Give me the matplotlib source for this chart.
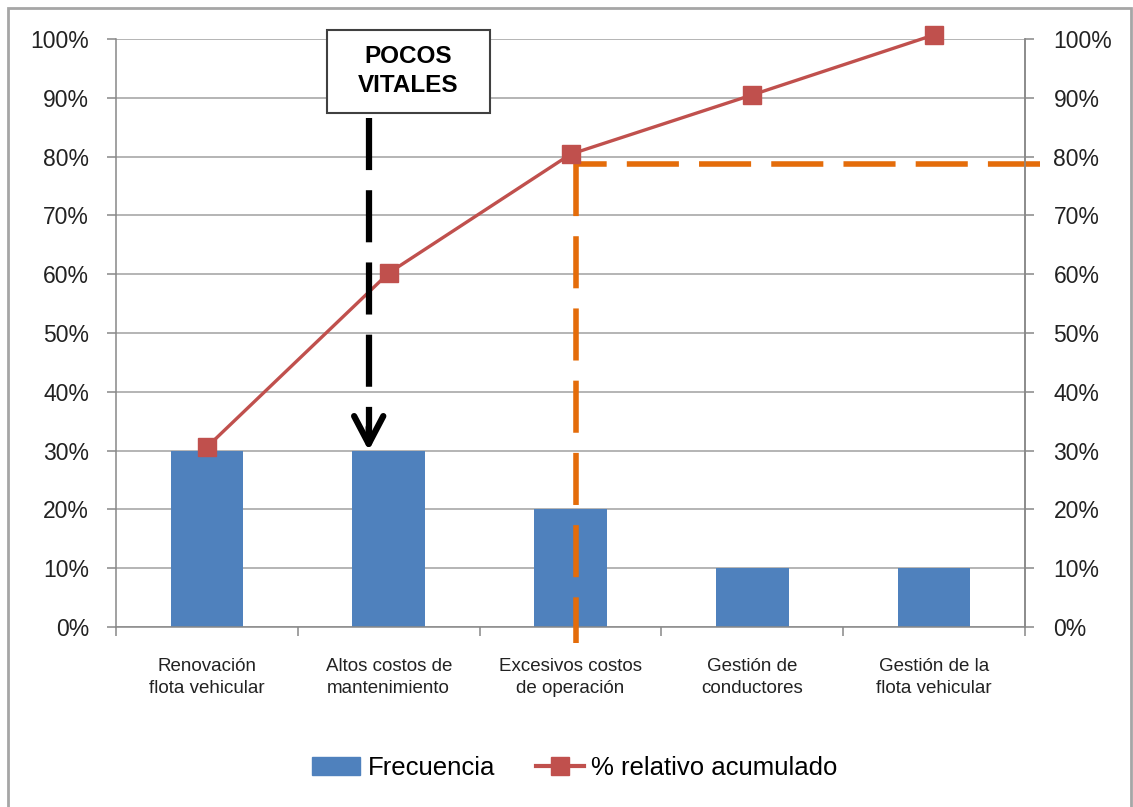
import matplotlib.pyplot as plt
from matplotlib.patches import Rectangle, Patch
from matplotlib.lines import Line2D
from matplotlib.ticker import FixedLocator, PercentFormatter

plt.rcParams['font.family'] = ['Liberation Sans', 'DejaVu Sans']
plt.rcParams['lines.scale_dashes'] = False

# Pareto data
categorias = [
    "Renovación\nflota vehicular",
    "Altos costos de\nmantenimiento",
    "Excesivos costos\nde operación",
    "Gestión de\nconductores",
    "Gestión de la\nflota vehicular",
]
frecuencia = [30, 30, 20, 10, 10]
acumulado = [30.6, 60.2, 80.4, 90.5, 100.7]
corte_80 = 78.7          # horizontal guide level (%)
x_corte = 2.03           # guide drops at this category position
x_flecha = 0.89          # "pocos vitales" arrow position
flecha_desde, flecha_hasta = 86.6, 30.0

azul = '#4F81BD'
rojo = '#C0504D'
naranja = '#E46C0A'
gris = '#A0A0A0'

fig = plt.figure(figsize=(11.33, 8.07), dpi=100)
W, H = 1133, 807
ax = fig.add_axes([116 / W, 1 - 627 / H, (1025 - 116) / W, (627 - 39) / H])

x = list(range(len(categorias)))
ax.bar(x, frecuencia, width=0.4, color=azul, zorder=2)
ax.plot(x, acumulado, color=rojo, lw=2.4, marker='s', markersize=13,
        markerfacecolor=rojo, markeredgecolor=rojo, zorder=5, clip_on=False)

ax.set_xlim(-0.5, len(categorias) - 0.5)
ax.set_ylim(0, 100)
ax.yaxis.set_major_locator(FixedLocator(range(0, 101, 10)))
ax.yaxis.set_major_formatter(PercentFormatter(decimals=0))
ax.grid(axis='y', color=gris, lw=1.1, zorder=0)
ax.set_axisbelow(True)

# category labels centred, ticks on the boundaries
ax.set_xticks(x)
ax.set_xticklabels(categorias, fontsize=13.5, linespacing=1.4, color='#222222')
ax.set_xticks([i - 0.5 for i in range(len(categorias) + 1)], minor=True)
ax.tick_params(axis='x', which='major', length=0, pad=22)
ax.tick_params(axis='x', which='minor', length=6.5, color='#888888', width=1.1)
ax.tick_params(axis='y', length=6.5, color='#888888', width=1.1, pad=13,
               labelsize=16.5, labelcolor='#222222')

for side in ['left', 'bottom', 'right']:
    ax.spines[side].set_color('#888888')
    ax.spines[side].set_linewidth(1.1)
ax.spines['top'].set_visible(False)

# secondary axis with same scale
ax2 = ax.twinx()
ax2.set_ylim(0, 100)
ax2.yaxis.set_major_locator(FixedLocator(range(0, 101, 10)))
ax2.yaxis.set_major_formatter(PercentFormatter(decimals=0))
ax2.tick_params(axis='y', length=6.5, color='#888888', width=1.1, pad=14,
                labelsize=16.5, labelcolor='#222222')
for side in ['left', 'bottom', 'top']:
    ax2.spines[side].set_visible(False)
ax2.spines['right'].set_color('#888888')
ax2.spines['right'].set_linewidth(1.1)

# 80% guide lines
ax.plot([4.58, x_corte], [corte_80, corte_80], color=naranja, lw=4,
        dashes=(37.5, 14.5), dash_capstyle='butt', clip_on=False, zorder=4)
ax.plot([x_corte, x_corte], [corte_80, -2.7], color=naranja, lw=4,
        dashes=(37.5, 14.5), dash_capstyle='butt', clip_on=False, zorder=4)

# arrow pointing to the vital few
ax.plot([x_flecha, x_flecha], [flecha_desde, flecha_hasta + 1.2], color='black',
        lw=4.5, dashes=(37.5, 14.5), dash_capstyle='butt', zorder=6)
ax.annotate('', xy=(x_flecha, flecha_hasta), xytext=(x_flecha, flecha_hasta + 4),
            arrowprops=dict(arrowstyle='->,head_length=2.0,head_width=1.05',
                            lw=4.5, color='black', shrinkA=0, shrinkB=0),
            zorder=6)

fig.add_artist(Rectangle((327 / W, 1 - 113 / H), 163 / W, 83 / H,
                         transform=fig.transFigure, facecolor='white',
                         edgecolor='#404040', lw=1.5, zorder=7))
fig.text(408 / W, 1 - 71 / H, "POCOS\nVITALES", ha='center', va='center',
         fontsize=17.5, fontweight='bold', linespacing=1.3, zorder=8)

# legend
handles = [
    Patch(facecolor=azul, edgecolor=azul, label='Frecuencia'),
    Line2D([], [], color=rojo, lw=3, marker='s', markersize=13,
           markerfacecolor=rojo, markeredgecolor=rojo,
           label='% relativo acumulado'),
]
fig.legend(handles=handles, loc='center', bbox_to_anchor=(575 / W, 1 - 768 / H),
           ncol=2, frameon=False, fontsize=18.5, handlelength=1.85,
           handletextpad=0.3, columnspacing=1.6)

# chart frame
fig.add_artist(Rectangle((8 / W, -0.01), (1131 - 8) / W, 1 - 8 / H + 0.01,
                         transform=fig.transFigure, fill=False,
                         edgecolor='#A6A6A6', lw=2))

fig.savefig('out.png', dpi=100)
